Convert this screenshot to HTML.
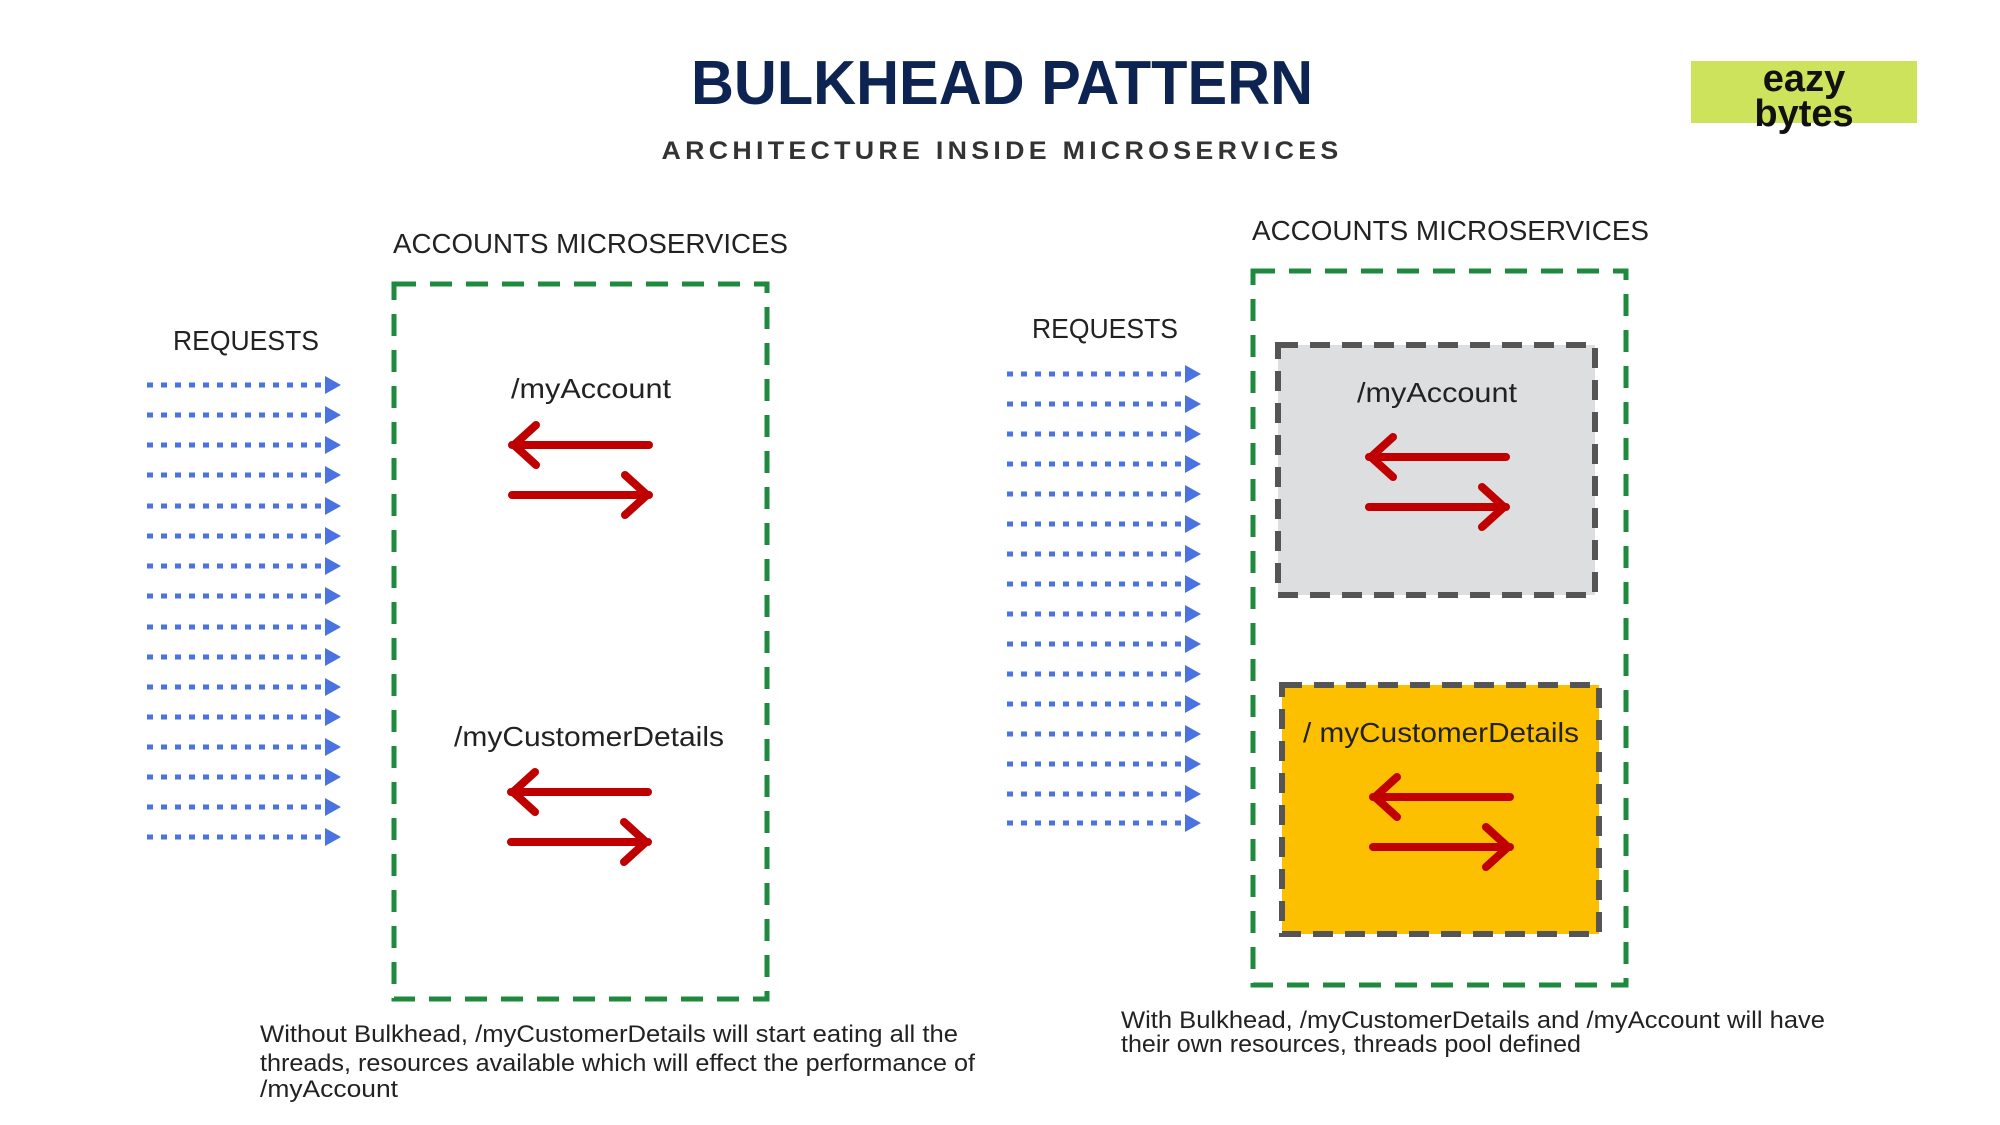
<!DOCTYPE html>
<html><head><meta charset="utf-8"><style>
html,body{margin:0;padding:0;background:#fff}
svg{display:block}
text{font-family:"Liberation Sans",sans-serif}
</style></head><body>
<svg width="2000" height="1125" viewBox="0 0 2000 1125" xmlns="http://www.w3.org/2000/svg">
<defs>
<g id="ra">
  <path d="M0 0 H137 M0 50 H137" stroke="#c00000" stroke-width="8" stroke-linecap="round" fill="none"/>
  <path d="M24 -20 L2 0 L24 20 M113 30 L135 50 L113 70" stroke="#c00000" stroke-width="8" stroke-linecap="round" stroke-linejoin="round" fill="none"/>
</g>
<g id="ba">
  <line x1="0" y1="0" x2="176" y2="0" stroke="#4a72e0" stroke-width="5" stroke-dasharray="6 8"/>
  <path d="M178 -9 L194 0 L178 9 Z" fill="#4a72e0"/>
</g>
</defs>

<text x="1002" y="104" text-anchor="middle" font-size="62" font-weight="bold" fill="#0d2452" textLength="622" lengthAdjust="spacingAndGlyphs">BULKHEAD PATTERN</text>
<text x="1002" y="159" text-anchor="middle" font-size="25" font-weight="bold" fill="#333" letter-spacing="4" textLength="681" lengthAdjust="spacingAndGlyphs">ARCHITECTURE INSIDE MICROSERVICES</text>

<rect x="1691" y="61" width="226" height="62" fill="#cde35c"/>
<text x="1804" y="91" text-anchor="middle" font-size="38" font-weight="bold" fill="#111">eazy</text>
<text x="1804" y="126" text-anchor="middle" font-size="38" font-weight="bold" fill="#111">bytes</text>

<!-- LEFT -->
<text x="393" y="253" font-size="28" fill="#222" textLength="395" lengthAdjust="spacingAndGlyphs">ACCOUNTS MICROSERVICES</text>
<rect x="394" y="284" width="373" height="715" fill="none" stroke="#1e8a3e" stroke-width="5" stroke-dasharray="22 14"/>
<text x="173" y="350" font-size="28" fill="#222" textLength="146" lengthAdjust="spacingAndGlyphs">REQUESTS</text>
<g>
<use href="#ba" x="147" y="385"/><use href="#ba" x="147" y="415"/><use href="#ba" x="147" y="445"/><use href="#ba" x="147" y="475"/>
<use href="#ba" x="147" y="506"/><use href="#ba" x="147" y="536"/><use href="#ba" x="147" y="566"/><use href="#ba" x="147" y="596"/>
<use href="#ba" x="147" y="627"/><use href="#ba" x="147" y="657"/><use href="#ba" x="147" y="687"/><use href="#ba" x="147" y="717"/>
<use href="#ba" x="147" y="747"/><use href="#ba" x="147" y="777"/><use href="#ba" x="147" y="807"/><use href="#ba" x="147" y="837"/>
</g>
<text x="591" y="398" text-anchor="middle" font-size="28" fill="#222" textLength="160" lengthAdjust="spacingAndGlyphs">/myAccount</text>
<use href="#ra" x="512" y="445"/>
<text x="589" y="746" text-anchor="middle" font-size="28" fill="#222" textLength="270" lengthAdjust="spacingAndGlyphs">/myCustomerDetails</text>
<use href="#ra" x="511" y="792"/>
<text x="260" y="1042" font-size="24" fill="#222" textLength="698" lengthAdjust="spacingAndGlyphs">Without Bulkhead, /myCustomerDetails will start eating all the</text>
<text x="260" y="1071" font-size="24" fill="#222" textLength="715" lengthAdjust="spacingAndGlyphs">threads, resources available which will effect the performance of</text>
<text x="260" y="1097" font-size="24" fill="#222" textLength="138" lengthAdjust="spacingAndGlyphs">/myAccount</text>

<!-- RIGHT -->
<text x="1252" y="240" font-size="28" fill="#222" textLength="397" lengthAdjust="spacingAndGlyphs">ACCOUNTS MICROSERVICES</text>
<rect x="1253" y="271" width="373" height="714" fill="none" stroke="#1e8a3e" stroke-width="5" stroke-dasharray="22 14"/>
<text x="1032" y="338" font-size="28" fill="#222" textLength="146" lengthAdjust="spacingAndGlyphs">REQUESTS</text>
<g>
<use href="#ba" x="1007" y="374"/><use href="#ba" x="1007" y="404"/><use href="#ba" x="1007" y="434"/><use href="#ba" x="1007" y="464"/>
<use href="#ba" x="1007" y="494"/><use href="#ba" x="1007" y="524"/><use href="#ba" x="1007" y="554"/><use href="#ba" x="1007" y="584"/>
<use href="#ba" x="1007" y="614"/><use href="#ba" x="1007" y="644"/><use href="#ba" x="1007" y="674"/><use href="#ba" x="1007" y="704"/>
<use href="#ba" x="1007" y="734"/><use href="#ba" x="1007" y="764"/><use href="#ba" x="1007" y="794"/><use href="#ba" x="1007" y="823"/>
</g>
<rect x="1278" y="345" width="317" height="250" fill="#dcdee0" stroke="#555" stroke-width="6" stroke-dasharray="20 12"/>
<text x="1437" y="402" text-anchor="middle" font-size="28" fill="#222" textLength="160" lengthAdjust="spacingAndGlyphs">/myAccount</text>
<use href="#ra" x="1369" y="457"/>
<rect x="1282" y="685" width="317" height="249" fill="#fdc000" stroke="#555" stroke-width="6" stroke-dasharray="20 12"/>
<text x="1441" y="742" text-anchor="middle" font-size="28" fill="#222" textLength="276" lengthAdjust="spacingAndGlyphs">/ myCustomerDetails</text>
<use href="#ra" x="1373" y="797"/>
<text x="1121" y="1028" font-size="24" fill="#222" textLength="704" lengthAdjust="spacingAndGlyphs">With Bulkhead, /myCustomerDetails and /myAccount will have</text>
<text x="1121" y="1052" font-size="24" fill="#222" textLength="460" lengthAdjust="spacingAndGlyphs">their own resources, threads pool defined</text>
</svg>
</body></html>
